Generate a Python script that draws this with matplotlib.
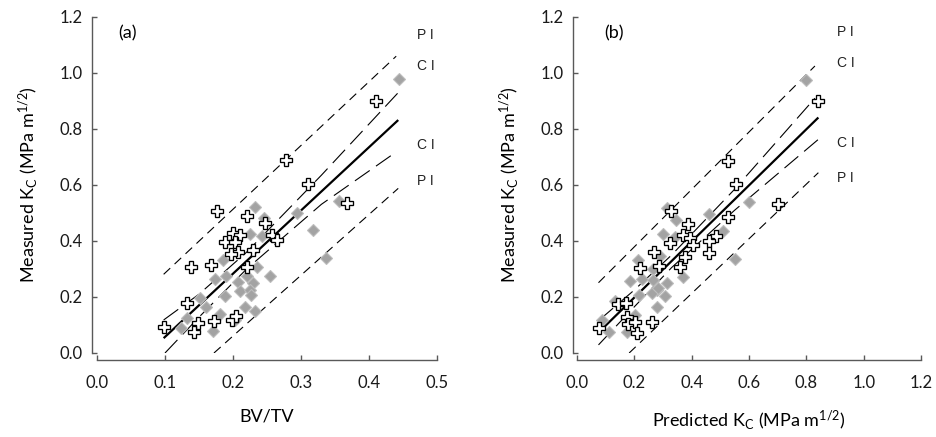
import matplotlib
matplotlib.use("Agg")
import matplotlib.pyplot as plt

plt.rcParams['font.family'] = ['Lato', 'DejaVu Sans']
plt.rcParams['mathtext.default'] = 'regular'
plt.rcParams['lines.scale_dashes'] = False

# ---------------- data: panel (a) ----------------
a_cross_x = [0.411, 0.278, 0.311, 0.367, 0.177, 0.220, 0.247, 0.258, 0.264, 0.200, 0.210, 0.188, 0.203,
             0.208, 0.197, 0.229, 0.138, 0.167, 0.220, 0.132, 0.098, 0.149, 0.142, 0.172, 0.198, 0.204]
a_cross_y = [0.901, 0.689, 0.604, 0.537, 0.508, 0.491, 0.463, 0.421, 0.404, 0.427, 0.420, 0.395, 0.395,
             0.362, 0.354, 0.368, 0.306, 0.314, 0.306, 0.180, 0.092, 0.108, 0.076, 0.115, 0.118, 0.132]
a_dia_x = [0.444, 0.232, 0.356, 0.294, 0.318, 0.245, 0.225, 0.242, 0.337, 0.186, 0.236, 0.254, 0.174, 0.190,
           0.208, 0.220, 0.230, 0.210, 0.225, 0.188, 0.227, 0.151, 0.160, 0.181, 0.132, 0.124, 0.170, 0.217,
           0.232, 0.203]
a_dia_y = [0.978, 0.521, 0.544, 0.499, 0.439, 0.481, 0.426, 0.419, 0.339, 0.333, 0.308, 0.275, 0.266, 0.275,
           0.255, 0.274, 0.250, 0.220, 0.225, 0.205, 0.207, 0.195, 0.163, 0.141, 0.124, 0.088, 0.080, 0.166,
           0.150, 0.118]
a_fit_x, a_fit_y = [0.098, 0.443], [0.053, 0.832]
a_ciu_x, a_ciu_y = [0.098, 0.15, 0.22, 0.33, 0.443], [0.118, 0.21, 0.36, 0.635, 0.93]
a_cil_x, a_cil_y = [0.100, 0.15, 0.22, 0.33, 0.440], [0.0, 0.128, 0.30, 0.531, 0.718]
a_piu_x, a_piu_y = [0.098, 0.440], [0.281, 1.06]
a_pil_x, a_pil_y = [0.172, 0.443], [0.0, 0.588]
a_lab_y = [1.136, 1.025, 0.743, 0.615]
a_lab_t = ["P I", "C I", "C I", "P I"]

# ---------------- data: panel (b) ----------------
b_cross_x = [0.842, 0.702, 0.555, 0.528, 0.528, 0.485, 0.459, 0.462, 0.386, 0.327, 0.369, 0.394, 0.403, 0.324,
             0.377, 0.270, 0.220, 0.286, 0.359, 0.078, 0.144, 0.171, 0.176, 0.179, 0.202, 0.211, 0.262]
b_cross_y = [0.900, 0.532, 0.602, 0.686, 0.487, 0.418, 0.401, 0.358, 0.461, 0.506, 0.421, 0.409, 0.386, 0.392,
             0.344, 0.362, 0.302, 0.311, 0.306, 0.088, 0.175, 0.178, 0.127, 0.105, 0.109, 0.070, 0.109]
b_dia_x = [0.799, 0.601, 0.551, 0.459, 0.510, 0.315, 0.347, 0.301, 0.342, 0.290, 0.214, 0.264, 0.371, 0.185,
           0.226, 0.217, 0.278, 0.307, 0.313, 0.260, 0.284, 0.278, 0.202, 0.133, 0.086, 0.112, 0.175, 0.264]
b_dia_y = [0.975, 0.538, 0.334, 0.496, 0.437, 0.518, 0.474, 0.424, 0.414, 0.348, 0.332, 0.299, 0.270, 0.258,
           0.266, 0.207, 0.225, 0.204, 0.249, 0.213, 0.231, 0.163, 0.134, 0.184, 0.119, 0.076, 0.076, 0.261]
b_fit_x, b_fit_y = [0.078, 0.842], [0.076, 0.841]
b_ciu_x, b_ciu_y = [0.078, 0.20, 0.33, 0.55, 0.830], [0.118, 0.225, 0.35, 0.585, 0.91]
b_cil_x, b_cil_y = [0.075, 0.20, 0.33, 0.55, 0.842], [0.029, 0.165, 0.305, 0.51, 0.763]
b_piu_x, b_piu_y = [0.075, 0.830], [0.251, 1.025]
b_pil_x, b_pil_y = [0.182, 0.842], [0.0, 0.644]
b_lab_y = [1.146, 1.035, 0.749, 0.624]
b_lab_t = ["P I", "C I", "C I", "P I"]

a_xticks = [0.0, 0.1, 0.2, 0.3, 0.4, 0.5]
b_xticks = [0.0, 0.2, 0.4, 0.6, 0.8, 1.0, 1.2]
yticks = [0.0, 0.2, 0.4, 0.6, 0.8, 1.0, 1.2]

ylabel = 'Measured K$_\\mathregular{C}$ (MPa m$^\\mathregular{1/2}$)'

fig = plt.figure(figsize=(9.36, 4.37), dpi=100)
axa = fig.add_axes([0.10363, 0.19222, 0.36325, 0.76888])
axb = fig.add_axes([0.61645, 0.19222, 0.36752, 0.76888])

PI_DASH = (0, (6.5, 4.3))
CI_DASH = (0, (13.0, 5.5))
SPINE = '#595959'


def draw(ax, cx, cy, dx, dy, fit, ciu, cil, piu, pil, labx, laby, labt, xticks, xlim, xlabel, tag,
         tagx, loff, boff, ylab_x, xlab_y):
    ax.plot(fit[0], fit[1], color='black', lw=1.6, solid_capstyle='butt', zorder=3)
    ax.plot(ciu[0], ciu[1], color='black', lw=0.8, linestyle=CI_DASH, zorder=3)
    ax.plot(cil[0], cil[1], color='black', lw=0.8, linestyle=CI_DASH, zorder=3)
    ax.plot(piu[0], piu[1], color='black', lw=0.8, linestyle=PI_DASH, zorder=3)
    ax.plot(pil[0], pil[1], color='black', lw=0.8, linestyle=PI_DASH, zorder=3)
    ax.plot(dx, dy, linestyle='none', marker='D', ms=6.6, mfc='#a3a3a3', mec='#bdbdbd', mew=0.8, zorder=4)
    ax.plot(cx, cy, linestyle='none', marker='P', ms=8.3, mfc='white', mec='black', mew=0.95, zorder=5)
    for yv, t in zip(laby, labt):
        ax.text(labx, yv, t, family='Liberation Sans', fontsize=10, ha='left', va='center', color='#222222')
    ax.text(tagx, 1.143, tag, fontsize=13, ha='left', va='center')
    ax.set_xlim(xlim)
    ax.set_ylim(0, 1.2)
    ax.set_xticks(xticks)
    ax.set_xticklabels([f"{v:.1f}" for v in xticks])
    ax.set_yticks(yticks)
    ax.set_yticklabels([f"{v:.1f}" for v in yticks])
    for s in ('top', 'right'):
        ax.spines[s].set_visible(False)
    ax.spines['left'].set_position(('outward', loff))
    ax.spines['bottom'].set_position(('outward', boff))
    for s in ('left', 'bottom'):
        ax.spines[s].set_color(SPINE)
        ax.spines[s].set_linewidth(1.0)
    ax.tick_params(axis='both', direction='in', length=3.5, width=1.0, color=SPINE,
                   labelsize=12, labelcolor='#1a1a1a')
    ax.tick_params(axis='x', pad=10.5)
    ax.tick_params(axis='y', pad=6.5)
    ax.set_ylabel(ylabel, fontsize=13)
    ax.yaxis.set_label_coords(ylab_x, 0.5)
    ax.set_xlabel(xlabel, fontsize=13)
    ax.xaxis.set_label_coords(0.5, xlab_y)
    ax.patch.set_visible(False)


draw(axa, a_cross_x, a_cross_y, a_dia_x, a_dia_y, (a_fit_x, a_fit_y), (a_ciu_x, a_ciu_y),
     (a_cil_x, a_cil_y), (a_piu_x, a_piu_y), (a_pil_x, a_pil_y), 0.470, a_lab_y, a_lab_t,
     a_xticks, (0, 0.5), 'BV/TV', '(a)', 0.031, 3.6, 5.4, -0.168, -0.165)
draw(axb, b_cross_x, b_cross_y, b_dia_x, b_dia_y, (b_fit_x, b_fit_y), (b_ciu_x, b_ciu_y),
     (b_cil_x, b_cil_y), (b_piu_x, b_piu_y), (b_pil_x, b_pil_y), 0.908, b_lab_y, b_lab_t,
     b_xticks, (0, 1.2), 'Predicted K$_\\mathregular{C}$ (MPa m$^\\mathregular{1/2}$)', '(b)', 0.094,
     2.9, 5.0, -0.163, -0.165)

fig.savefig('out.png', dpi=100)
